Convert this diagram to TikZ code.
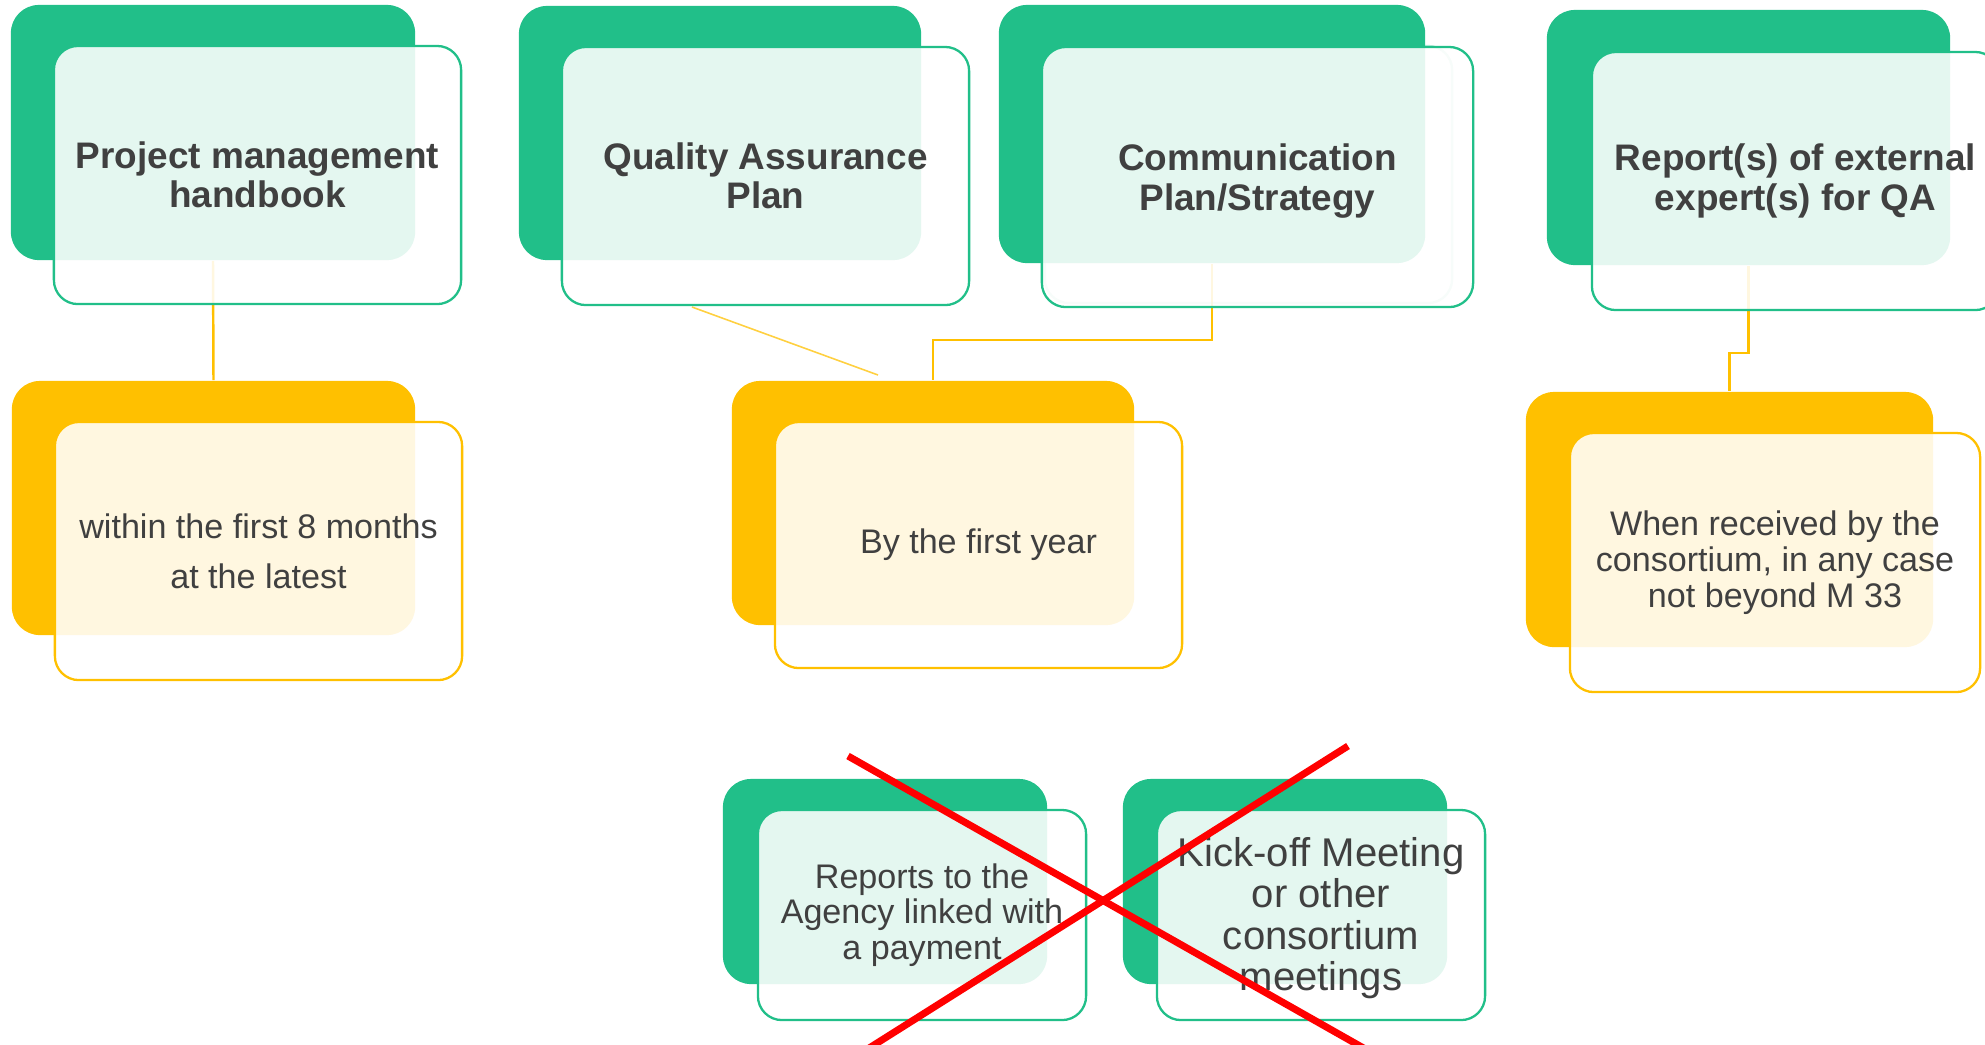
\documentclass[tikz,border=0pt]{standalone}
\usepackage{fontspec}
\setmainfont{Liberation Sans}
\definecolor{qagreen}{RGB}{33,191,137}
\definecolor{qayellow}{RGB}{255,192,0}
\definecolor{qatext}{RGB}{64,64,64}
\definecolor{qared}{RGB}{255,0,0}
\tikzset{
  greenback/.style={rectangle, rounded corners=0.28cm, fill=qagreen, inner sep=0pt},
  yellowback/.style={rectangle, rounded corners=0.28cm, fill=qayellow, inner sep=0pt},
  greenfront/.style={rectangle, rounded corners=0.24cm, draw=qagreen, line width=0.65pt,
    fill=white, fill opacity=0.88, text opacity=1, text=qatext, align=center, inner sep=0pt},
  yellowfront/.style={rectangle, rounded corners=0.24cm, draw=qayellow, line width=0.65pt,
    fill=white, fill opacity=0.88, text opacity=1, text=qatext, align=center, inner sep=0pt},
  boxsize/.style 2 args={minimum width=#1, minimum height=#2},
  linkline/.style={draw=qayellow, line width=0.7pt},
  titletext/.style={font=\fontsize{10.5}{11.2}\selectfont\bfseries},
  whentext/.style={font=\fontsize{9.7}{10.3}\selectfont},
}
\begin{document}
\begin{tikzpicture}[x=0.01cm, y=-0.01cm]
  \useasboundingbox (0,0) rectangle (1985,1044);

  % Back boxes, deliverables
  \node [greenback, boxsize={4.04cm}{2.55cm}] (pmhBack) at (213.0,132.5) {};%
  \node [greenback, boxsize={4.02cm}{2.54cm}] (qapBack) at (720.0,133.0) {};%
  \node [greenback, boxsize={4.26cm}{2.58cm}] (comBack) at (1212.0,134.0) {};%
  \node [greenback, boxsize={4.03cm}{2.55cm}] (repBack) at (1748.5,137.5) {};%

  % Back boxes, deadlines
  \node [yellowback, boxsize={4.03cm}{2.54cm}] (pmhWhenBack) at (213.5,508.0) {};%
  \node [yellowback, boxsize={4.02cm}{2.44cm}] (yearBack) at (933.0,503.0) {};%
  \node [yellowback, boxsize={4.07cm}{2.55cm}] (repWhenBack) at (1729.5,519.5) {};%

  % Back boxes, crossed out
  \node [greenback, boxsize={3.24cm}{2.05cm}] (agencyBack) at (885.0,881.5) {};%
  \node [greenback, boxsize={3.24cm}{2.05cm}] (kickBack) at (1285.0,881.5) {};%

  % Links deliverable -> deadline
  \coordinate (qapFoot) at (692.0,307.0);%
  \coordinate (yearTip) at (878.0,375.0);%
  \draw [linkline] (pmhBack.south) -- (pmhWhenBack.north);%
  \draw [linkline, line width=0.45pt, draw opacity=0.75] (qapFoot) -- (yearTip);%
  \draw [linkline] (comBack.south) -- ++(0,76) -| (yearBack.north);%
  \draw [linkline] (repBack.south) -- ++(0,87) -| (repWhenBack.north);%

  % Front boxes, deliverables
  \node [greenfront, titletext, boxsize={4.07cm}{2.58cm}] (pmhFront) at (257.5,175.0)
    {Project management\\handbook};%
  \node [greenfront, titletext, boxsize={4.07cm}{2.58cm}] (qapFront) at (765.5,176.0)
    {Quality Assurance\\Plan};%
  \node [greenfront, draw opacity=0.3, fill opacity=0, boxsize={4.07cm}{2.57cm}] (comGhost) at (1248.5,174.5) {};%
  \node [greenfront, titletext, boxsize={4.31cm}{2.60cm}] (comFront) at (1257.5,177.0)
    {\rule{0pt}{10pt}Communication\\Plan/Strategy};%
  \node [greenfront, titletext, boxsize={4.07cm}{2.58cm}] (repFront) at (1795.5,181.0)
    {Report(s) of external\\expert(s) for QA};%

  % Front boxes, deadlines
  \node [yellowfront, font=\fontsize{9.7}{14.2}\selectfont, boxsize={4.07cm}{2.58cm}] (pmhWhenFront) at (258.5,551.0)
    {within the first 8 months\\at the latest};%
  \node [yellowfront, whentext, boxsize={4.07cm}{2.46cm}] (yearFront) at (978.5,545.0)
    {By the first year};%
  \node [yellowfront, whentext, boxsize={4.10cm}{2.59cm}] (repWhenFront) at (1775.0,562.5)
    {When received by the\\consortium, in any case\\not beyond M 33};%

  % Front boxes, crossed out
  \node [greenfront, font=\fontsize{9.7}{10.1}\selectfont, boxsize={3.28cm}{2.10cm}] (agencyFront) at (922.0,915.0)
    {Reports to the\\Agency linked with\\a payment};%
  \node [greenfront, font=\fontsize{11.4}{11.7}\selectfont, boxsize={3.28cm}{2.10cm}] (kickFront) at (1321.0,915.0)
    {\rule{0pt}{10pt}Kick-off Meeting\\or other\\consortium\\meetings};%

  % Red cross over the last two
  \draw [qared, line width=2pt] (848.0,756.0) -- (1367.0,1050.0);%
  \draw [qared, line width=2pt] (1348.0,746.0) -- (866.0,1050.0);%
\end{tikzpicture}
\end{document}
